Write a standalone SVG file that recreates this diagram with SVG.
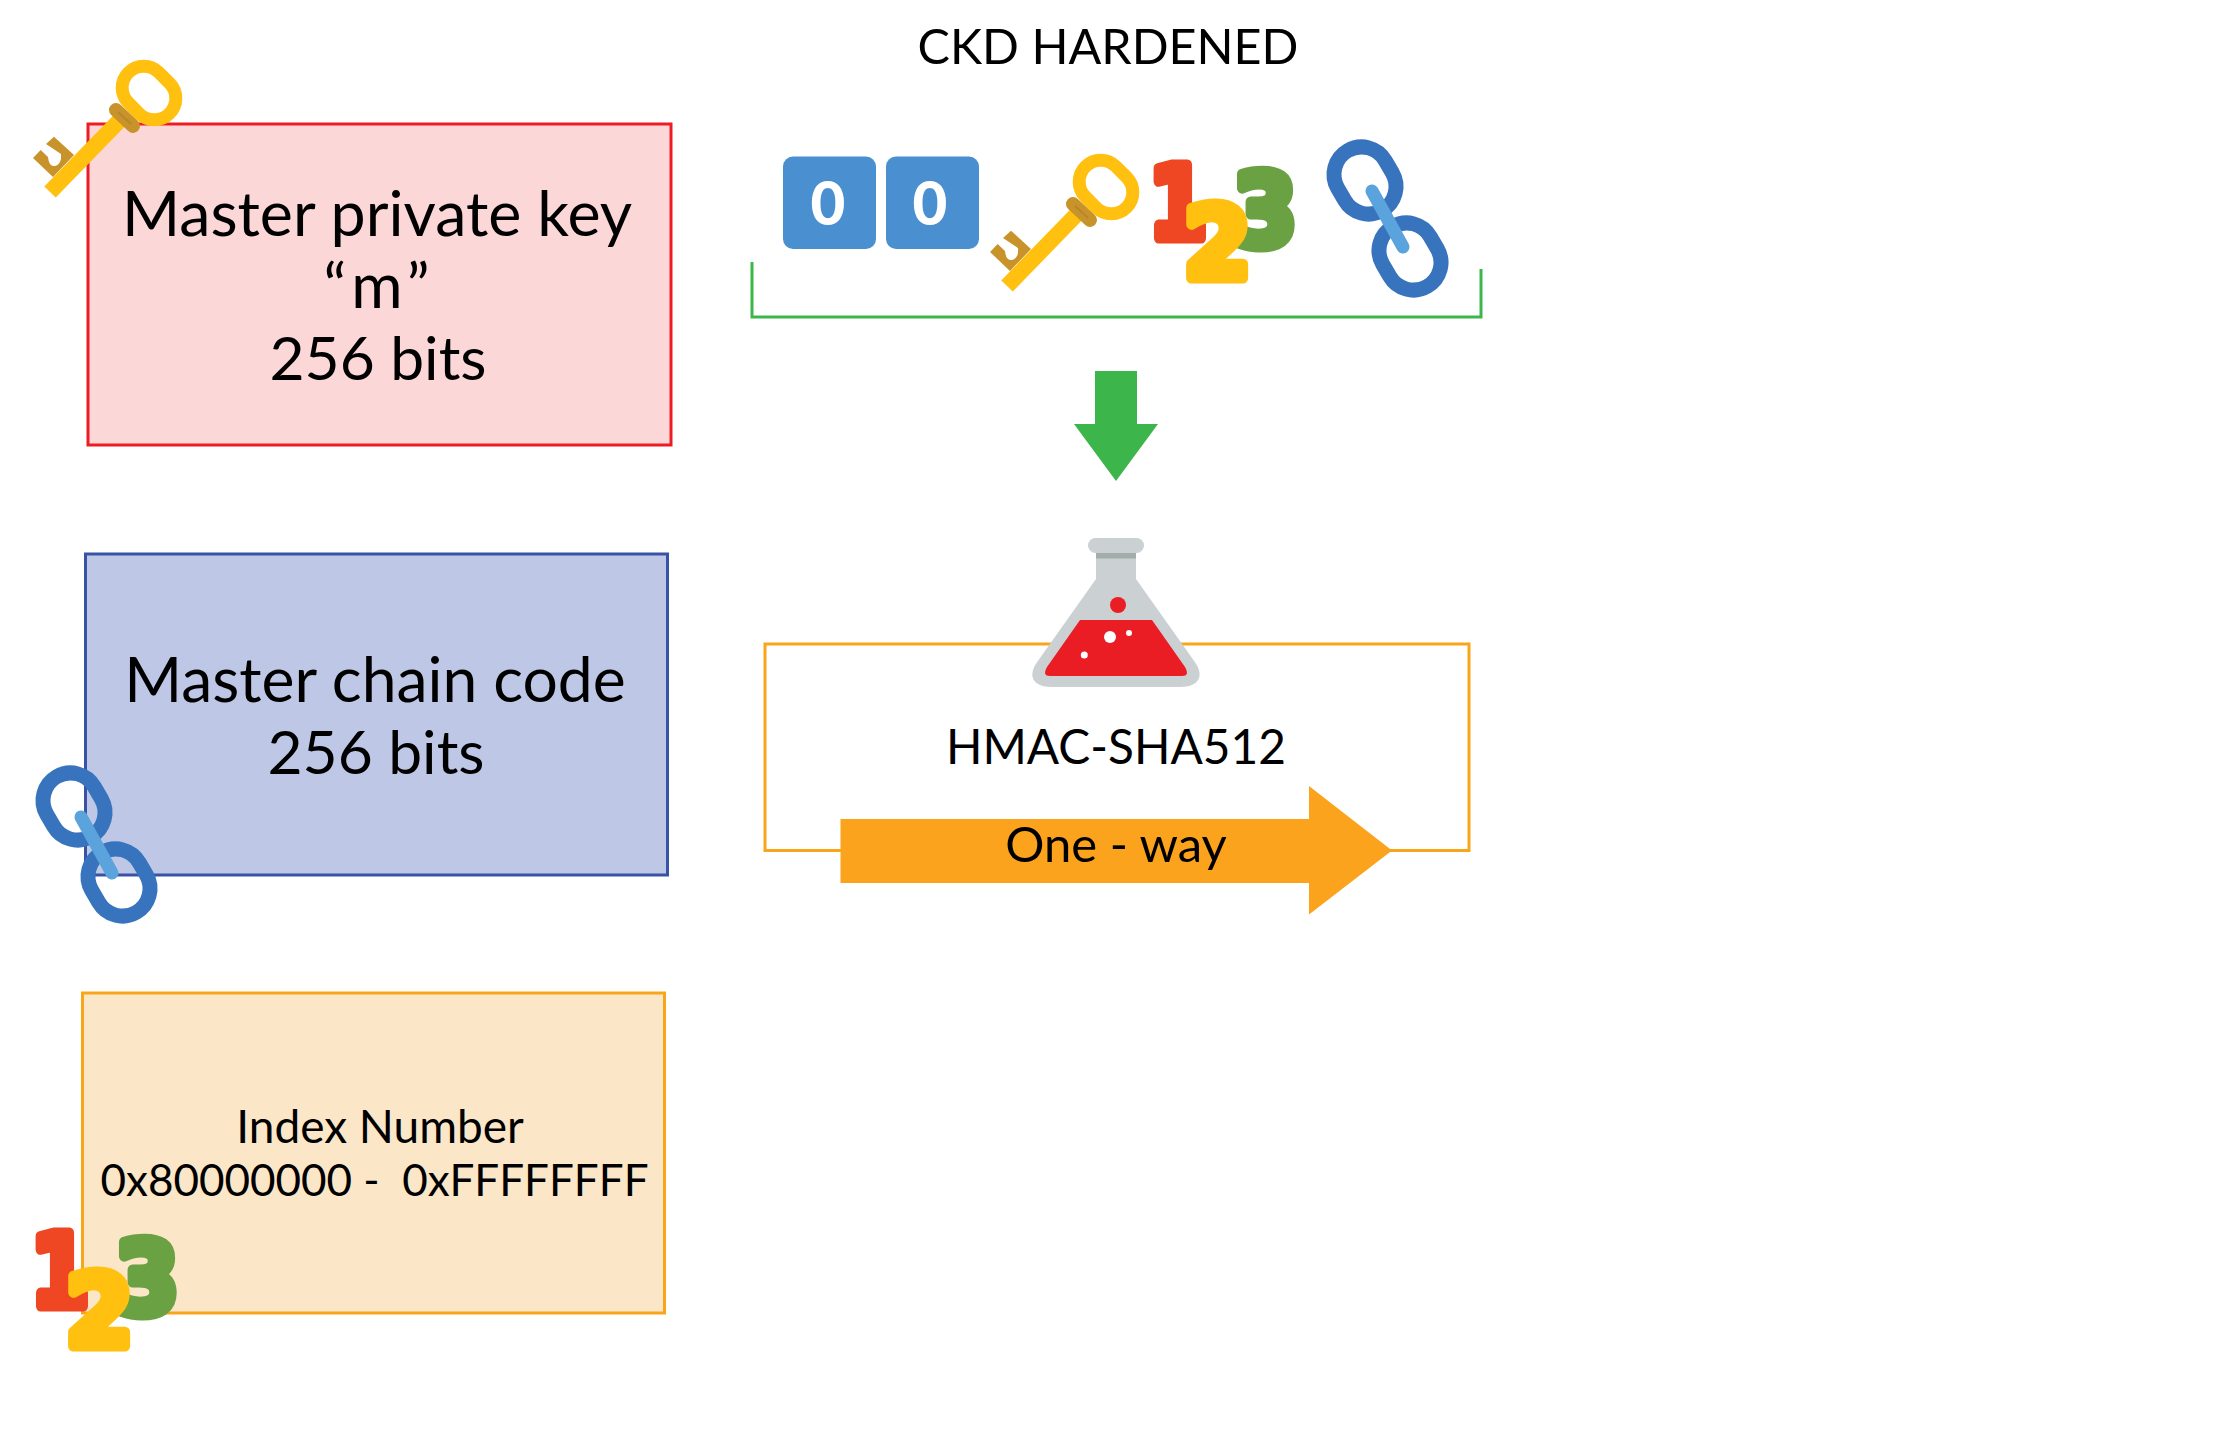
<svg xmlns="http://www.w3.org/2000/svg" width="2232" height="1453" viewBox="0 0 2232 1453">
<style>
text{font-family:"Lato","Liberation Sans",sans-serif;fill:#000;text-anchor:middle}
.big{font-size:62.4px}
.bits{font-size:60.5px}
.mid{font-size:47.8px}
.idx{font-size:46px}
.num{font-family:"DejaVu Sans",sans-serif;font-weight:700;font-size:100px;stroke-width:11px;stroke-linejoin:round}
.zero{font-weight:900;font-size:60px;fill:#fff}
.sq{fill:#4A8FCF}
.ol{fill:none;stroke-width:3px}
.ring{fill:none;stroke:#3874BD;stroke-width:15px}
</style>
<defs>
<g id="key">
<path d="M5,107L12.700,99L20,106Q21,116 27,115Q34,113 33,103L18,93L26,85.700L46,104L25,126Z" fill="#C9932B"/>
<line x1="22" y1="141" x2="92" y2="69" stroke="#FFC010" stroke-width="16"/>
<rect x="-29" y="-21.500" width="58" height="43" rx="21.500" transform="translate(121,42) rotate(45)" fill="none" stroke="#FFC010" stroke-width="13"/>
<line x1="88" y1="59" x2="105" y2="75" stroke="#C9932B" stroke-width="14" stroke-linecap="round"/>
<line x1="90" y1="61" x2="103" y2="73" stroke="#B8862A" stroke-width="2"/>
</g>
<g id="nums">
<text class="num" transform="translate(33,93) scale(.84,1)" style="fill:#EF4723;stroke:#EF4723">1</text>
<text class="num" transform="translate(120,101) scale(.92,1)" style="fill:#6AA143;stroke:#6AA143">3</text>
<text class="num" transform="translate(72.500,133) scale(.97,1)" style="fill:#FFC010;stroke:#FFC010">2</text>
</g>
<g id="chain">
<rect class="ring" x="-34.500" y="-27.500" width="69" height="55" rx="27.500" transform="translate(45,45.500) rotate(60)"/>
<rect class="ring" x="-34.500" y="-27.500" width="69" height="55" rx="27.500" transform="translate(90,121.500) rotate(60)"/>
<line x1="52" y1="56" x2="83" y2="112" stroke="#5AA3DC" stroke-width="13" stroke-linecap="round"/>
</g>
</defs>

<g id="title"><text x="1108" y="64" style="font-size:48.5px">CKD HARDENED</text></g>

<g id="private-key">
<rect x="88" y="124" width="583" height="321" fill="#FCD7D7" stroke="#ED1C24" stroke-width="3"/>
<text class="big" x="377" y="236" style="font-size:62.7px">Master private key</text>
<text class="big" x="379" y="308" style="letter-spacing:5px">“m”</text>
<text class="bits" x="378" y="380">256 bits</text>
<use href="#key" x="28" y="51"/>
</g>
<g id="chain-code">
<rect x="85.500" y="554" width="582" height="321" fill="#BEC8E6" stroke="#3953A4" stroke-width="3"/>
<text class="big" x="375" y="702">Master chain code</text>
<text class="bits" x="376" y="774">256 bits</text>
<use href="#chain" x="29" y="761"/>
</g>
<g id="index-number">
<rect x="82.500" y="993" width="582" height="320" fill="#FBE7C8" stroke="#F9A51A" stroke-width="3"/>
<text class="idx" x="380" y="1143">Index Number</text>
<text class="idx" x="374.500" y="1196" style="font-size:44px;white-space:pre">0x80000000 -  0xFFFFFFFF</text>
<use href="#nums" x="27" y="1213"/>
</g>

<g id="input-row">
<rect class="sq" x="783" y="156.500" width="93" height="92.500" rx="10"/>
<text class="zero" x="828" y="225">0</text>
<rect class="sq" x="886" y="156.500" width="93" height="92.500" rx="10"/>
<text class="zero" x="930" y="225">0</text>
<use href="#key" x="985" y="145"/>
<use href="#nums" x="1145" y="145"/>
<use href="#chain" x="1320" y="135"/>
</g>

<g id="connectors">
<path class="ol" d="M752,262V317H1481V269" stroke="#3CB54A"/>
<polygon points="1095,371 1137,371 1137,424 1158,424 1116,481 1074,424 1095,424" fill="#3CB54A"/>
</g>

<g id="hmac">
<rect class="ol" x="765" y="644" width="704" height="206.500" stroke="#F9A51A"/>
<g id="flask">
<path d="M1096,552V579L1037.500,661.500C1027,676 1033,687 1052,687H1180C1199,687 1205,676 1194.500,661.500L1136,579V552Z" fill="#CBD0D3"/>
<rect x="1088" y="538" width="56" height="15" rx="7.500" fill="#CBD0D3"/>
<rect x="1096" y="553" width="40" height="5.500" fill="#A3ADA9"/>
<path d="M1080,620H1152L1185,667Q1190,676 1182,676H1050Q1042,676 1047,667Z" fill="#EA1D25"/>
<circle cx="1118" cy="605" r="8" fill="#EA1D25"/>
<circle cx="1110" cy="637" r="6" fill="#fff"/>
<circle cx="1129" cy="633" r="3" fill="#fff"/>
<circle cx="1084.300" cy="655" r="3.500" fill="#fff"/>
</g>
<text class="mid" x="1116" y="764">HMAC-SHA512</text>
<polygon points="840.500,819 1309,819 1309,786 1392,850.500 1309,914.500 1309,883 840.500,883" fill="#FBA31C"/>
<text class="mid" x="1116" y="862" style="font-size:49px">One - way</text>
</g>
</svg>
